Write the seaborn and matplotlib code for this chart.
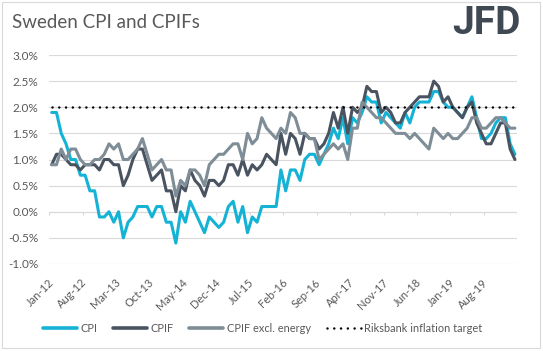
"""
Sweden CPI and CPIFs - monthly annual inflation rates vs Riksbank target.
"""

import numpy as np
import pandas as pd
import seaborn as sns
import matplotlib.pyplot as plt
from matplotlib.lines import Line2D
from matplotlib.patches import Rectangle
from matplotlib.ticker import FuncFormatter

# ============================================================================
# Data (% y/y)
# ============================================================================
months = pd.date_range('2012-01-01', periods=98, freq='MS')
month_labels = [d.strftime('%b-%y') for d in months]

cpi = [
    1.9, 1.9, 1.5, 1.3, 1.0, 1.0, 0.7, 0.7, 0.4, 0.4,
    -0.1, -0.1, 0.0, -0.2, 0.0, -0.5, -0.2, -0.1, 0.1, 0.1,
    0.1, -0.1, 0.1, 0.1, -0.2, -0.2, -0.6, 0.0, -0.2, 0.2,
    0.0, -0.2, -0.4, -0.1, -0.2, -0.3, -0.2, 0.1, 0.2, -0.2,
    0.1, -0.4, -0.1, -0.2, 0.1, 0.1, 0.1, 0.1, 0.8, 0.4,
    0.8, 0.8, 0.6, 1.0, 1.1, 1.1, 0.9, 1.1, 1.3, 1.6,
    1.4, 1.8, 1.3, 1.8, 1.7, 1.9, 2.2, 2.1, 2.1, 1.7,
    1.9, 1.8, 1.7, 1.6, 1.9, 1.7, 2.0, 2.1, 2.1, 2.1,
    2.3, 2.3, 2.1, 2.0, 2.0, 1.9, 1.8, 2.0, 2.2, 1.8,
    1.4, 1.4, 1.5, 1.7, 1.8, 1.8, 1.3, 1.1,
]

cpif = [
    0.9, 1.1, 1.1, 1.0, 0.9, 0.9, 0.8, 0.9, 0.9, 0.9,
    0.8, 1.0, 1.0, 0.9, 0.9, 0.5, 0.7, 1.0, 1.2, 1.2,
    0.9, 0.6, 0.7, 0.8, 0.4, 0.4, 0.0, 0.5, 0.4, 0.8,
    0.6, 0.5, 0.3, 0.6, 0.6, 0.5, 0.6, 0.9, 0.9, 0.7,
    1.0, 0.7, 0.9, 0.8, 0.9, 1.1, 1.0, 0.9, 1.5, 1.1,
    1.5, 1.4, 1.1, 1.5, 1.4, 1.4, 1.2, 1.3, 1.5, 1.9,
    1.6, 2.0, 1.5, 2.0, 1.9, 2.0, 2.4, 2.3, 2.3, 1.9,
    2.0, 1.9, 1.7, 1.7, 1.9, 2.0, 2.1, 2.2, 2.2, 2.2,
    2.5, 2.4, 2.1, 2.2, 2.0, 1.9, 1.8, 2.0, 2.1, 1.7,
    1.5, 1.3, 1.3, 1.5, 1.7, 1.7, 1.2, 1.0,
]

cpif_ex_energy = [
    0.9, 0.9, 1.2, 1.0, 1.2, 1.2, 1.0, 0.9, 0.9, 1.0,
    1.0, 1.1, 1.3, 1.2, 1.3, 1.0, 1.0, 1.1, 1.2, 1.4,
    1.1, 0.8, 0.9, 1.0, 0.8, 0.8, 0.3, 0.6, 0.5, 0.8,
    0.8, 0.7, 0.5, 0.9, 1.0, 1.1, 1.1, 1.2, 1.3, 1.3,
    1.0, 1.5, 1.3, 1.4, 1.8, 1.6, 1.5, 1.4, 1.6, 1.5,
    1.9, 1.8, 1.5, 1.5, 1.4, 1.4, 1.0, 1.1, 1.2, 1.3,
    1.2, 1.3, 1.0, 1.6, 1.6, 2.1, 2.0, 1.9, 1.8, 1.8,
    1.7, 1.6, 1.5, 1.5, 1.5, 1.4, 1.5, 1.4, 1.3, 1.2,
    1.6, 1.5, 1.4, 1.5, 1.4, 1.4, 1.5, 1.6, 1.8, 1.8,
    1.6, 1.6, 1.7, 1.8, 1.8, 1.7, 1.6, 1.6,
]

target = [2.0] * len(months)

SERIES = ['CPI', 'CPIF', 'CPIF excl. energy']
COLORS = {'CPI': '#14b3d6', 'CPIF': '#4a5461', 'CPIF excl. energy': '#7f8d97'}
TARGET_LABEL = 'Riksbank inflation target'
TEXT_COLOR = '#595959'
GRID_COLOR = '#d9d9d9'
LABEL_EVERY = 7

# ============================================================================
# Build long-form frame
# ============================================================================
df = pd.DataFrame({'pos': np.arange(len(months)),
                   'CPI': cpi, 'CPIF': cpif, 'CPIF excl. energy': cpif_ex_energy})
df_long = df.melt(id_vars='pos', var_name='series', value_name='value')

# ============================================================================
# Plot
# ============================================================================
sns.set_style('white')
plt.rcParams['font.family'] = ['Lato', 'DejaVu Sans']

W, H = 543, 351
fig = plt.figure(figsize=(W / 100, H / 100), dpi=100)
ax = fig.add_axes([49.3 / W, 1 - 264 / H, 468 / W, 209 / H])

sns.lineplot(data=df_long, x='pos', y='value', hue='series', hue_order=SERIES,
             palette=COLORS, linewidth=2.2, ax=ax, legend=False,
             solid_joinstyle='round', solid_capstyle='round')
ax.plot(df['pos'], target, color='black', lw=1.8, linestyle=(0, (0.01, 2.7)),
        dash_capstyle='round')

n = len(months)
ax.set_xlim(-0.5, n - 0.5)
ax.set_ylim(-1.0, 3.0)
ax.set_yticks(np.arange(-1.0, 3.01, 0.5))
ax.yaxis.set_major_formatter(FuncFormatter(lambda v, _: f'{v:.1f}%'))
ax.yaxis.grid(True, color=GRID_COLOR, lw=0.8)
ax.xaxis.grid(False)
for s in ax.spines.values():
    s.set_visible(False)
ax.set_axisbelow(True)

# category axis crosses at 0% with tick marks between categories
ax.axhline(0, color=GRID_COLOR, lw=0.8, zorder=0.5)
ax.vlines(np.arange(-0.5, n, LABEL_EVERY), -0.07, 0, color=GRID_COLOR, lw=0.8, zorder=0.5)

ax.set_xticks(np.arange(0, n, LABEL_EVERY))
ax.set_xticklabels(month_labels[::LABEL_EVERY], rotation=45, ha='right',
                   va='center', rotation_mode='anchor')
ax.tick_params(axis='x', length=0, pad=12, labelsize=8, labelcolor=TEXT_COLOR)
ax.tick_params(axis='y', length=0, pad=8, labelsize=8.5, labelcolor=TEXT_COLOR)
ax.set_xlabel('')
ax.set_ylabel('')

# title and logo
fig.text(12 / W, 1 - 22 / H, 'Sweden CPI and CPIFs', fontsize=13.5,
         color=TEXT_COLOR, va='center', ha='left')
fig.text(452 / W, 1 - 23 / H, 'JFD', fontsize=28, fontweight='bold',
         family='Roboto', color='#3f4853', va='center', ha='left')

# legend
handles = [Line2D([], [], color=COLORS[s], lw=2.6) for s in SERIES]
handles.append(Line2D([], [], color='black', lw=1.8, linestyle=(0, (0.01, 2.7)),
                      dash_capstyle='round'))
leg = fig.legend(handles, SERIES + [TARGET_LABEL], loc='center',
                 bbox_to_anchor=(262.5 / W, 1 - 328 / H), ncol=4, frameon=False,
                 fontsize=7.9, handlelength=3.1, handletextpad=0.3,
                 columnspacing=1.45)
for t in leg.get_texts():
    t.set_color(TEXT_COLOR)

# chart area border
fig.add_artist(Rectangle((1.5 / W, 3.5 / H), 538 / W, 345.5 / H,
                         transform=fig.transFigure, fill=False,
                         ec=GRID_COLOR, lw=0.8))

fig.savefig('out.png', dpi=100)
